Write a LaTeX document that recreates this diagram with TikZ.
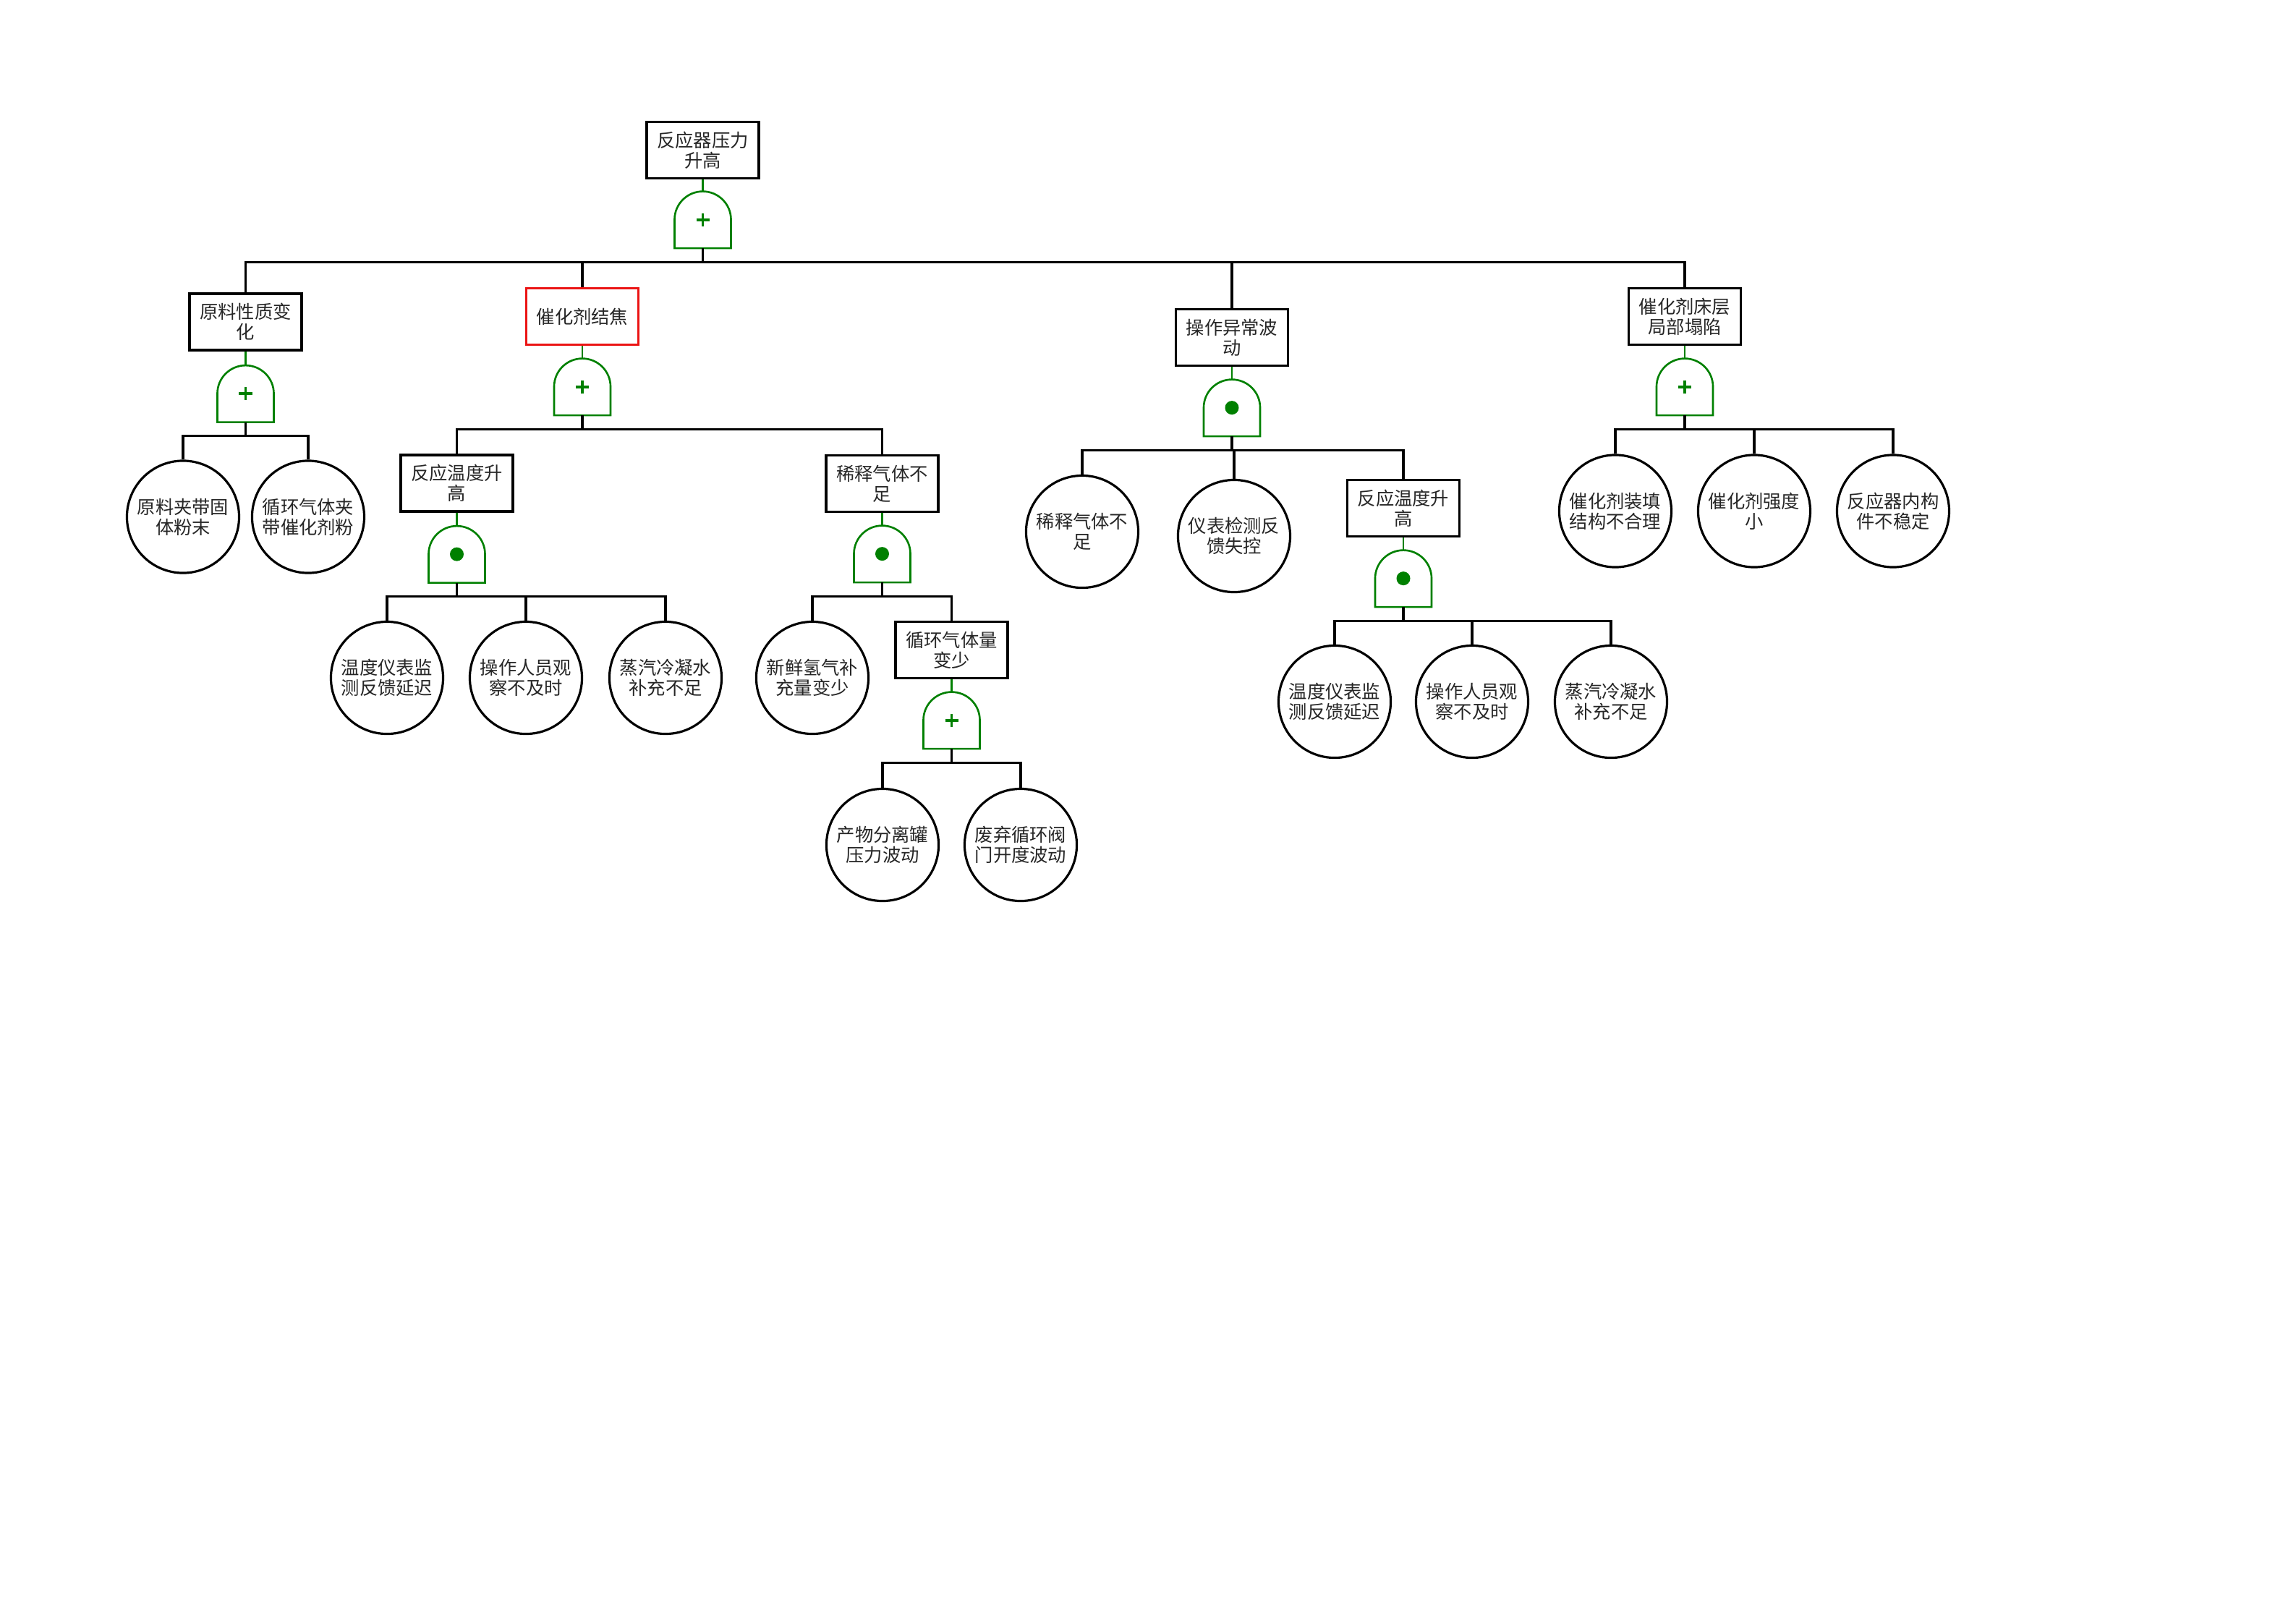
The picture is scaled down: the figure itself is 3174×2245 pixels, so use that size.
\documentclass[tikz,border=0pt]{standalone}
\usepackage{fontspec}
\usepackage{xcolor}
\usepackage{tikz}
\newfontfamily\cjkfont{Noto Sans CJK SC}
\usetikzlibrary{positioning}

\definecolor{gategreen}{RGB}{0,128,0}
\definecolor{boxred}{RGB}{235,20,20}

\tikzset{
  event/.style={draw, rectangle, line width=0.9pt, minimum width=1.55cm, minimum height=0.78cm,
    inner sep=0pt, align=center, text=black!85, font=\cjkfont\fontsize{7.2}{8}\selectfont},
  basic/.style={draw, circle, line width=0.9pt, minimum size=1.55cm,
    inner sep=0pt, align=center, text=black!85, font=\cjkfont\fontsize{7.2}{8}\selectfont},
  gate/.style={rectangle, minimum width=0.78cm, minimum height=0.79cm, inner sep=0pt, outer sep=0pt},
  link/.style={line width=0.9pt},
  gatelink/.style={draw=gategreen, line width=0.75pt}
}

\begin{document}
\begin{tikzpicture}[x=0.01cm, y=-0.01cm]
    % 0. Khung trang
    \useasboundingbox (0,0) rectangle (3174,2245);

    % 1. Sự kiện đỉnh
    \node[event] (top) at (971.5,207.5) {反应器压力\\升高};
    \node[gate, below=0.16cm of top] (gtop) {};

    % 2. Tầng thứ nhất và các cổng
    \node[event] (feed) at (339.5,445) {原料性质变\\化};
    \node[event, draw=boxred] (coke) at (805,437.5) {催化剂结焦};
    \node[event] (oper) at (1703,466.5) {操作异常波\\动};
    \node[event] (bed) at (2329,437.5) {催化剂床层\\局部塌陷};
    \node[gate, below=0.19cm of feed] (gfeed) {};
    \node[gate, below=0.17cm of coke] (gcoke) {};
    \node[gate, below=0.17cm of oper] (goper) {};
    \node[gate, below=0.17cm of bed] (gbed) {};

    % 3. Nhánh nguyên liệu
    \node[basic] (feedA) at (253,714.5) {原料夹带固\\体粉末};
    \node[basic] (feedB) at (426,714.5) {循环气体夹\\带催化剂粉};

    % 4. Nhánh kết cốc xúc tác
    \node[event] (tempA) at (631.5,668) {反应温度升\\高};
    \node[event] (dilA) at (1219.5,668.5) {稀释气体不\\足};
    \node[gate, below=0.18cm of tempA] (gtempA) {};
    \node[gate, below=0.17cm of dilA] (gdilA) {};
    \node[basic] (tempA1) at (535,937) {温度仪表监\\测反馈延迟};
    \node[basic] (tempA2) at (727,937) {操作人员观\\察不及时};
    \node[basic] (tempA3) at (920,937) {蒸汽冷凝水\\补充不足};
    \node[basic] (dilA1) at (1123,937) {新鲜氢气补\\充量变少};
    \node[event] (cyc) at (1315.5,898.5) {循环气体量\\变少};
    \node[gate, below=0.17cm of cyc] (gcyc) {};
    \node[basic] (cyc1) at (1220,1168) {产物分离罐\\压力波动};
    \node[basic] (cyc2) at (1411,1168) {废弃循环阀\\门开度波动};

    % 5. Nhánh thao tác bất thường
    \node[basic] (oper1) at (1496,735) {稀释气体不\\足};
    \node[basic] (oper2) at (1706,741) {仪表检测反\\馈失控};
    \node[event] (tempB) at (1940,702.5) {反应温度升\\高};
    \node[gate, below=0.17cm of tempB] (gtempB) {};
    \node[basic] (tempB1) at (1845,970) {温度仪表监\\测反馈延迟};
    \node[basic] (tempB2) at (2035,970) {操作人员观\\察不及时};
    \node[basic] (tempB3) at (2227,970) {蒸汽冷凝水\\补充不足};

    % 6. Nhánh sụp lớp xúc tác
    \node[basic] (bed1) at (2233,706.5) {催化剂装填\\结构不合理};
    \node[basic] (bed2) at (2425,706.5) {催化剂强度\\小};
    \node[basic] (bed3) at (2617,706.5) {反应器内构\\件不稳定};

    % 7. Vẽ cổng OR (dấu +) và cổng AND (chấm tròn)
    \foreach \g in {gtop, gfeed, gcoke, gbed, gcyc, gtempA, gdilA, goper, gtempB} {
        \draw[gatelink] (\g.south west) -- (\g.west)
            arc[start angle=180, end angle=0, radius=0.39cm] -- (\g.south east) -- cycle;
    }
    \foreach \g in {gtop, gfeed, gcoke, gbed, gcyc} {
        \draw[gategreen, line width=1.1pt] (\g.center) ++(-0.09cm,0) -- ++(0.18cm,0)
            (\g.center) ++(0,-0.09cm) -- ++(0,0.18cm);
    }
    \foreach \g in {gtempA, gdilA, goper, gtempB} {
        \fill[gategreen] (\g.center) circle (0.095cm);
    }

    % 8. Đường nối sự kiện -> cổng (xanh)
    \foreach \e/\g in {top/gtop, feed/gfeed, coke/gcoke, oper/goper, bed/gbed,
                      tempA/gtempA, dilA/gdilA, cyc/gcyc, tempB/gtempB} {
        \draw[gatelink] (\e.south) -- (\g.north);
    }

    % 9. Đường nối cổng -> sự kiện con
    \foreach \g/\c in {gtop/feed, gtop/coke, gtop/oper, gtop/bed,
                      gfeed/feedA, gfeed/feedB,
                      gcoke/tempA, gcoke/dilA,
                      gtempA/tempA1, gtempA/tempA2, gtempA/tempA3,
                      gdilA/dilA1, gdilA/cyc, gcyc/cyc1, gcyc/cyc2,
                      goper/oper1, goper/oper2, goper/tempB,
                      gtempB/tempB1, gtempB/tempB2, gtempB/tempB3,
                      gbed/bed1, gbed/bed2, gbed/bed3} {
        \draw[link] (\g.south) -- ++(0,-0.19cm) -| (\c.north);
    }
\end{tikzpicture}
\end{document}
